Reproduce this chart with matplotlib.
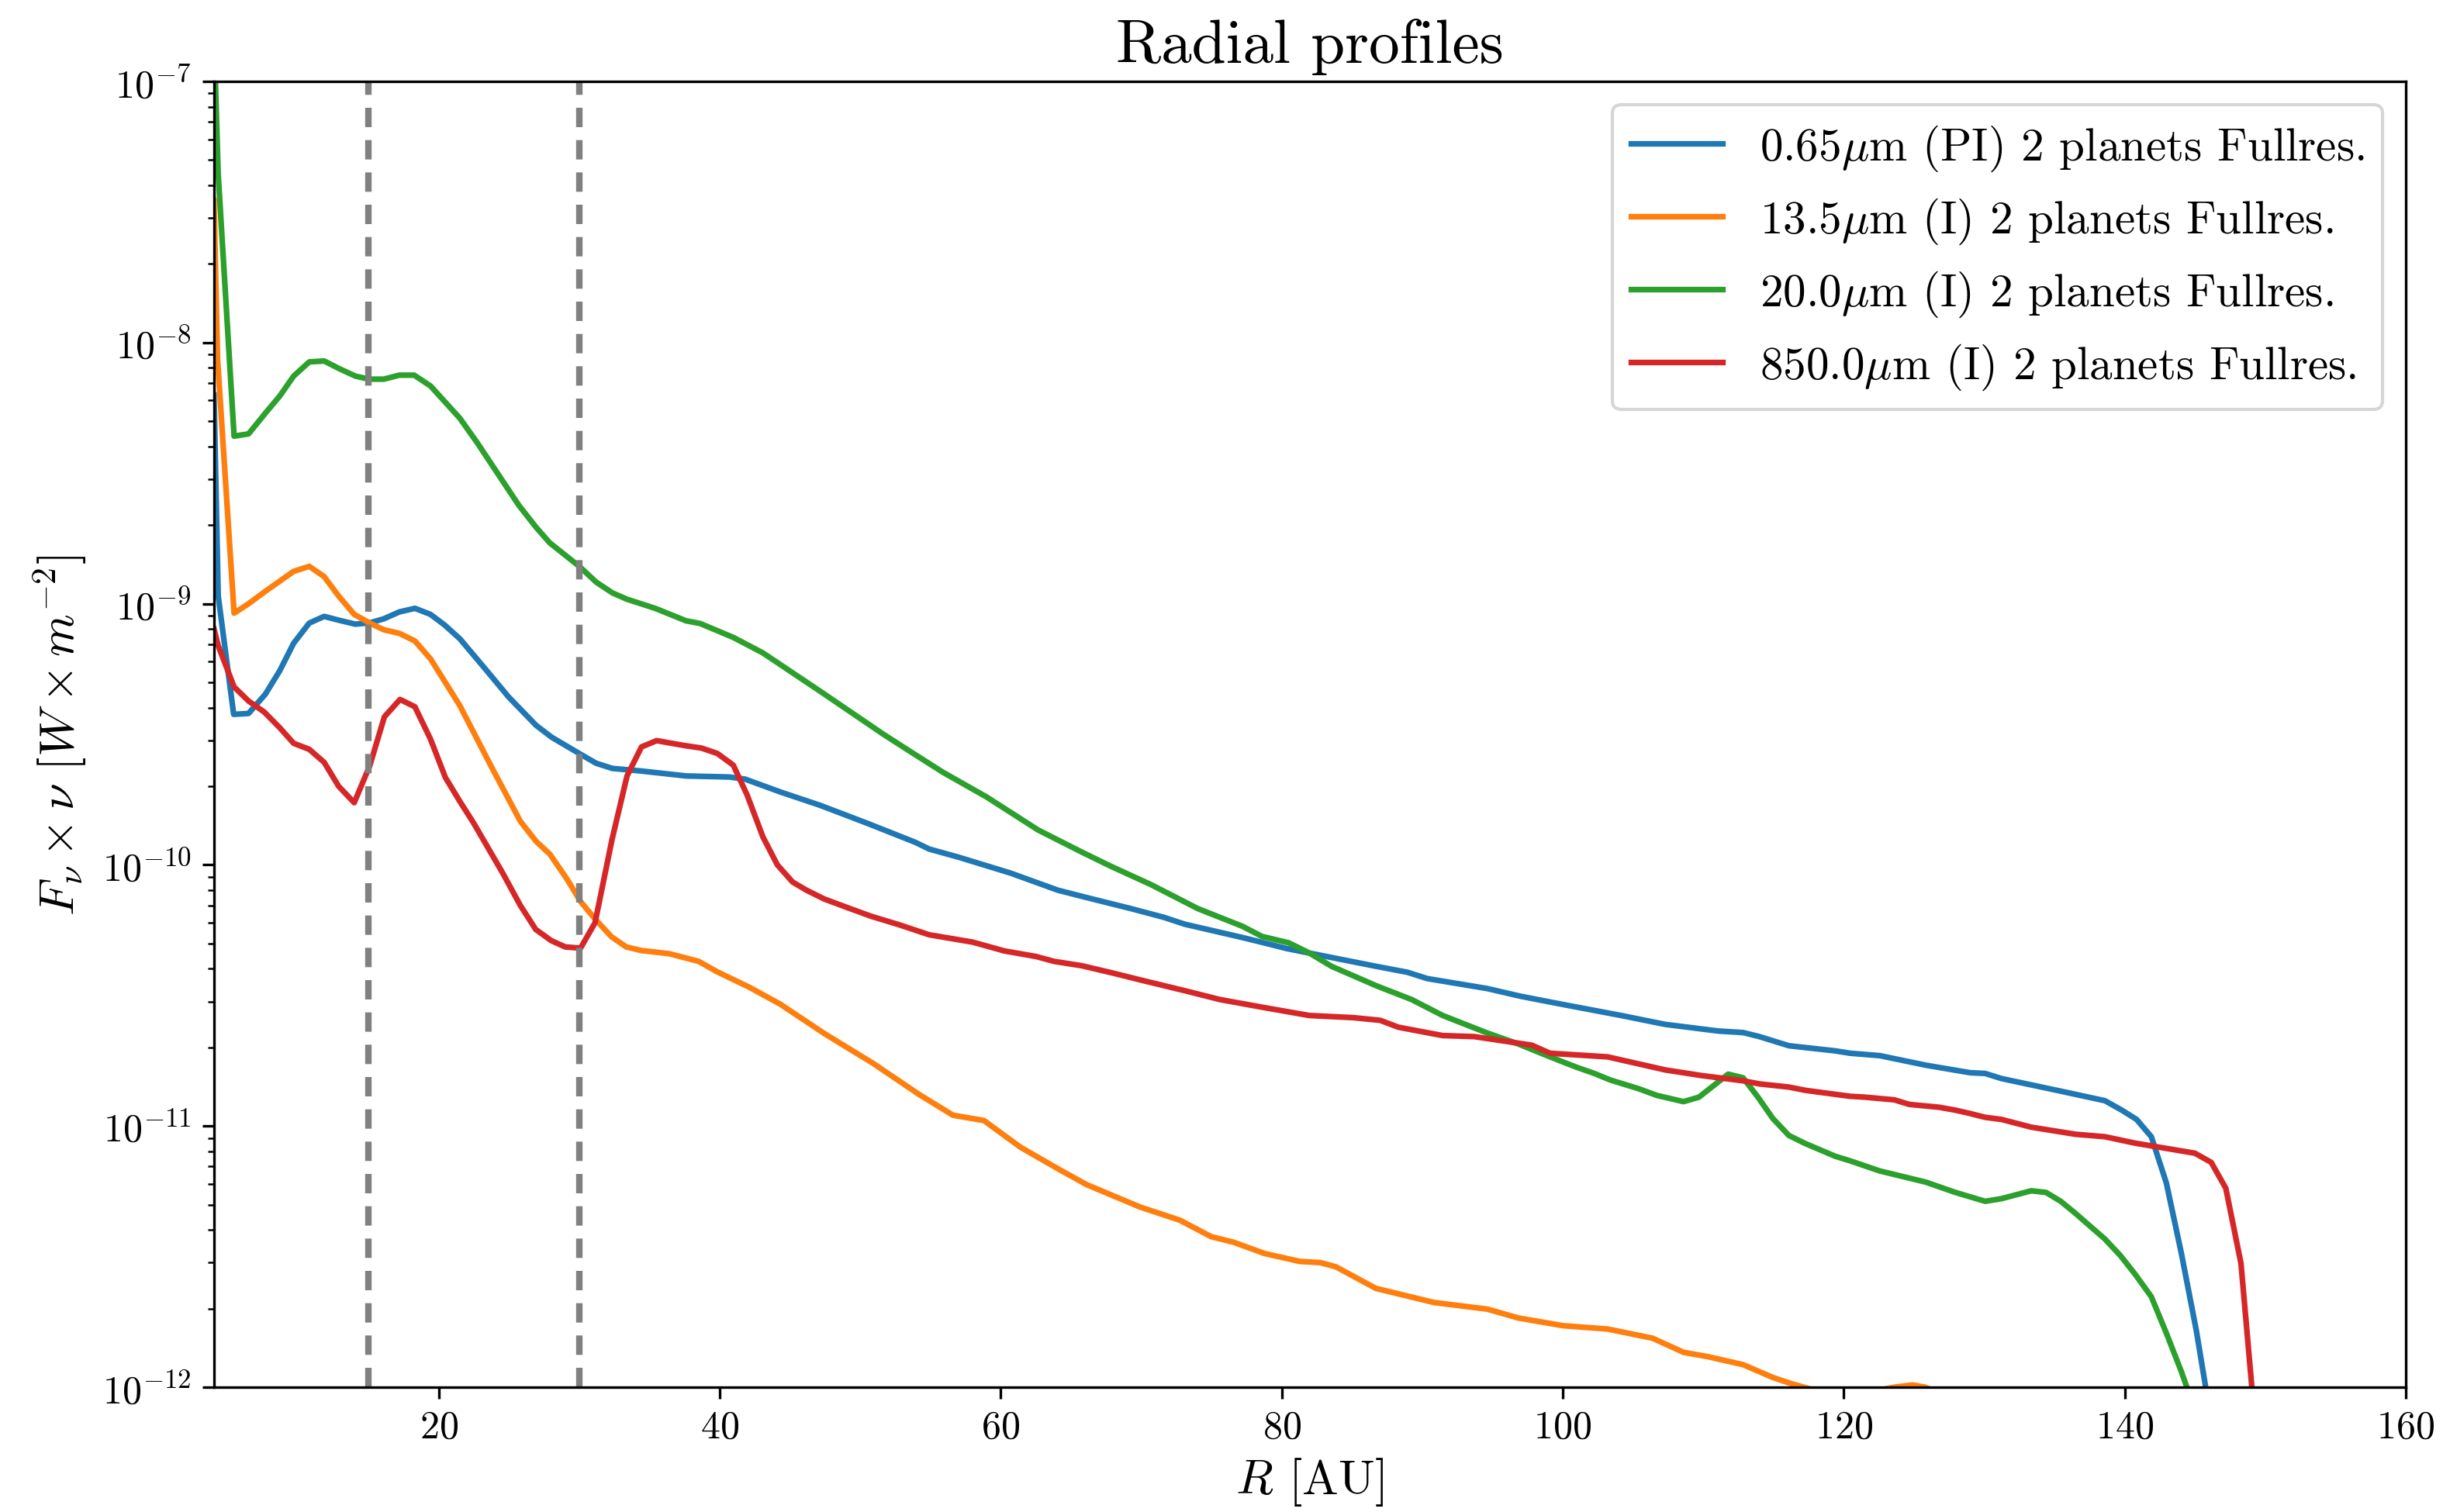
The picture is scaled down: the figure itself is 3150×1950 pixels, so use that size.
import matplotlib
matplotlib.use("Agg")
import matplotlib.pyplot as plt

plt.rcParams["font.family"] = "cmr10"
plt.rcParams["mathtext.fontset"] = "cm"
plt.rcParams["axes.formatter.use_mathtext"] = True
plt.rcParams["axes.unicode_minus"] = True

# radial profiles, R in AU
r_blue = [4.0, 4.3, 5.4, 6.46, 7.65, 8.68, 9.67, 10.78, 11.84, 12.87, 14.06, 15.1, 16.08, 17.19,
          18.3, 19.41, 20.4, 21.5, 23.5, 24.96, 26.93, 28.04, 30.1, 31.2, 32.36, 34.33, 37.6,
          40.67, 41.8, 44.33, 47.15, 50.54, 53.92, 54.9, 57.0, 60.7, 64.06, 66.1, 69.27, 71.6,
          73.08, 77.2, 78.47, 80.37, 83.54, 86.7, 88.94, 90.36, 94.64, 97.0, 100.02, 104.16,
          107.3, 111.1, 112.84, 114.0, 116.1, 119.4, 120.45, 122.57, 125.84, 129.0, 130.07,
          131.23, 135.45, 138.6, 139.8, 140.85, 141.9, 142.97, 144.03, 145.1, 146.17]
f_blue = [6.3e-9, 1.07e-9, 3.77e-10, 3.8e-10, 4.5e-10, 5.54e-10, 7.06e-10, 8.43e-10, 8.94e-10,
          8.65e-10, 8.35e-10, 8.45e-10, 8.75e-10, 9.3e-10, 9.6e-10, 9.1e-10, 8.3e-10, 7.34e-10,
          5.47e-10, 4.4e-10, 3.42e-10, 3.08e-10, 2.65e-10, 2.45e-10, 2.34e-10, 2.29e-10, 2.19e-10,
          2.17e-10, 2.13e-10, 1.9e-10, 1.69e-10, 1.44e-10, 1.22e-10, 1.15e-10, 1.07e-10, 9.3e-11,
          8.0e-11, 7.5e-11, 6.8e-11, 6.3e-11, 5.93e-11, 5.27e-11, 5.07e-11, 4.78e-11, 4.42e-11,
          4.09e-11, 3.88e-11, 3.67e-11, 3.36e-11, 3.14e-11, 2.92e-11, 2.65e-11, 2.45e-11, 2.31e-11,
          2.28e-11, 2.2e-11, 2.03e-11, 1.94e-11, 1.9e-11, 1.86e-11, 1.71e-11, 1.6e-11, 1.59e-11,
          1.52e-11, 1.36e-11, 1.25e-11, 1.15e-11, 1.06e-11, 9.1e-12, 6.05e-12, 3.27e-12, 1.65e-12,
          7.4e-13]

r_orange = [4.0, 4.25, 5.43, 6.46, 7.7, 8.68, 9.67, 10.78, 11.84, 12.87, 13.98, 15.09, 16.08,
            17.19, 18.3, 19.41, 20.4, 21.5, 23.7, 25.8, 26.93, 27.9, 29.14, 30.09, 31.13, 32.3,
            33.35, 34.4, 36.4, 38.5, 39.8, 42.1, 44.3, 47.5, 50.9, 54.2, 56.6, 58.8, 61.4, 64.2,
            66.1, 69.9, 72.75, 74.98, 76.57, 78.78, 81.3, 82.74, 83.86, 86.7, 90.84, 94.64, 96.86,
            100.02, 103.2, 106.4, 108.6, 110.3, 112.84, 114.95, 116.2, 118.3, 121.5, 123.6, 124.9,
            125.8, 127.0, 128.0]
f_orange = [3.5e-8, 8.7e-9, 9.2e-10, 1.0e-9, 1.12e-9, 1.22e-9, 1.33e-9, 1.39e-9, 1.27e-9,
            1.07e-9, 9.1e-10, 8.43e-10, 7.95e-10, 7.7e-10, 7.2e-10, 6.15e-10, 5.06e-10, 4.07e-10,
            2.4e-10, 1.47e-10, 1.23e-10, 1.1e-10, 8.8e-11, 7.24e-11, 6.2e-11, 5.3e-11, 4.85e-11,
            4.7e-11, 4.57e-11, 4.27e-11, 3.9e-11, 3.4e-11, 2.93e-11, 2.25e-11, 1.74e-11, 1.32e-11,
            1.1e-11, 1.05e-11, 8.3e-12, 6.8e-12, 5.97e-12, 4.9e-12, 4.36e-12, 3.77e-12, 3.59e-12,
            3.25e-12, 3.03e-12, 3.0e-12, 2.89e-12, 2.39e-12, 2.11e-12, 1.99e-12, 1.84e-12, 1.72e-12,
            1.67e-12, 1.54e-12, 1.36e-12, 1.31e-12, 1.22e-12, 1.09e-12, 1.035e-12, 9.6e-13, 9.5e-13,
            1.0e-12, 1.02e-12, 1.0e-12, 9.4e-13, 9.0e-13]

r_green = [4.0, 4.3, 5.43, 6.46, 7.7, 8.68, 9.67, 10.78, 11.84, 12.9, 14.06, 15.04, 16.08, 17.19,
           18.25, 19.41, 21.5, 22.74, 25.7, 26.93, 27.9, 30.0, 31.2, 32.36, 33.4, 35.4, 37.6,
           38.6, 40.96, 43.07, 47.15, 51.66, 53.78, 55.9, 58.99, 62.66, 65.76, 67.8, 70.7, 74.03,
           77.2, 78.6, 80.5, 81.96, 83.54, 86.7, 89.25, 91.46, 94.64, 96.86, 99.1, 100.98, 102.25,
           103.4, 105.4, 106.7, 108.6, 109.7, 111.78, 112.84, 113.9, 114.95, 116.1, 117.27, 119.4,
           120.45, 122.57, 125.84, 127.95, 130.07, 131.23, 133.35, 134.4, 135.45, 136.5, 138.6,
           139.7, 140.74, 141.9, 142.95, 144.03, 145.1]
f_green = [1.5e-7, 4.4e-8, 4.38e-9, 4.47e-9, 5.4e-9, 6.24e-9, 7.44e-9, 8.43e-9, 8.5e-9, 7.95e-9,
           7.44e-9, 7.24e-9, 7.24e-9, 7.5e-9, 7.5e-9, 6.82e-9, 5.13e-9, 4.13e-9, 2.38e-9, 1.96e-9,
           1.71e-9, 1.39e-9, 1.21e-9, 1.1e-9, 1.04e-9, 9.6e-10, 8.6e-10, 8.4e-10, 7.43e-10,
           6.48e-10, 4.62e-10, 3.16e-10, 2.67e-10, 2.26e-10, 1.82e-10, 1.36e-10, 1.12e-10, 9.9e-11,
           8.4e-11, 6.8e-11, 5.82e-11, 5.32e-11, 5.03e-11, 4.6e-11, 4.09e-11, 3.45e-11, 3.05e-11,
           2.65e-11, 2.27e-11, 2.06e-11, 1.84e-11, 1.68e-11, 1.59e-11, 1.5e-11, 1.39e-11, 1.31e-11,
           1.24e-11, 1.29e-11, 1.58e-11, 1.53e-11, 1.29e-11, 1.07e-11, 9.2e-12, 8.57e-12, 7.66e-12,
           7.36e-12, 6.73e-12, 6.1e-12, 5.57e-12, 5.15e-12, 5.27e-12, 5.65e-12, 5.57e-12, 5.15e-12,
           4.63e-12, 3.69e-12, 3.19e-12, 2.71e-12, 2.22e-12, 1.62e-12, 1.15e-12, 7.9e-13]

r_red = [4.0, 4.3, 5.43, 6.46, 7.57, 8.68, 9.67, 10.78, 11.84, 12.87, 13.98, 15.09, 16.13, 17.24,
         18.3, 19.41, 20.47, 21.5, 22.5, 24.6, 25.8, 26.9, 28.0, 29.0, 30.09, 31.12, 32.33, 33.4,
         34.43, 35.51, 37.55, 38.7, 39.83, 40.96, 41.95, 43.07, 44.1, 45.18, 46.17, 47.44, 49.41,
         50.8, 52.8, 54.9, 58.0, 60.27, 62.5, 63.8, 65.76, 68.0, 69.9, 73.08, 75.6, 78.78, 81.96,
         85.1, 87.0, 88.3, 91.46, 93.7, 97.8, 99.1, 103.2, 107.3, 109.9, 112.84, 114.0, 116.1,
         117.27, 120.45, 121.5, 123.6, 124.67, 126.8, 127.95, 128.9, 130.07, 131.23, 133.35,
         136.5, 138.6, 140.74, 145.0, 146.16, 147.2, 148.28, 149.35]
f_red = [8.0e-10, 6.9e-10, 4.8e-10, 4.24e-10, 3.85e-10, 3.35e-10, 2.92e-10, 2.77e-10, 2.47e-10,
         2.0e-10, 1.73e-10, 2.4e-10, 3.69e-10, 4.3e-10, 4.03e-10, 3.03e-10, 2.16e-10, 1.75e-10,
         1.44e-10, 9.2e-11, 7.0e-11, 5.66e-11, 5.13e-11, 4.85e-11, 4.8e-11, 6.0e-11, 1.25e-10,
         2.19e-10, 2.83e-10, 2.99e-10, 2.86e-10, 2.8e-10, 2.67e-10, 2.41e-10, 1.85e-10, 1.28e-10,
         1.0e-10, 8.6e-11, 8.0e-11, 7.4e-11, 6.76e-11, 6.35e-11, 5.89e-11, 5.4e-11, 5.06e-11,
         4.68e-11, 4.46e-11, 4.27e-11, 4.11e-11, 3.85e-11, 3.63e-11, 3.3e-11, 3.05e-11, 2.84e-11,
         2.65e-11, 2.6e-11, 2.54e-11, 2.39e-11, 2.22e-11, 2.2e-11, 2.04e-11, 1.9e-11, 1.84e-11,
         1.64e-11, 1.56e-11, 1.49e-11, 1.45e-11, 1.41e-11, 1.37e-11, 1.3e-11, 1.29e-11, 1.26e-11,
         1.21e-11, 1.18e-11, 1.15e-11, 1.12e-11, 1.08e-11, 1.06e-11, 9.9e-12, 9.3e-12, 9.1e-12,
         8.6e-12, 7.87e-12, 7.26e-12, 5.78e-12, 2.98e-12, 6.6e-13]

labels = [r"0.65$\mu$m (PI) 2 planets Fullres.",
          r"13.5$\mu$m (I) 2 planets Fullres.",
          r"20.0$\mu$m (I) 2 planets Fullres.",
          r"850.0$\mu$m (I) 2 planets Fullres."]
planet_r = [15, 30]

fig = plt.figure(figsize=(10.5, 6.5033), dpi=300)
ax = fig.add_axes([0.0876, 0.0825, 0.8971, 0.8632])

lw = 1.75
ax.plot(r_blue, f_blue, color="#1f77b4", lw=lw, label=labels[0])
ax.plot(r_orange, f_orange, color="#ff7f0e", lw=lw, label=labels[1])
ax.plot(r_green, f_green, color="#2ca02c", lw=lw, label=labels[2])
ax.plot(r_red, f_red, color="#d62728", lw=lw, label=labels[3])
for r in planet_r:
    ax.axvline(r, color="gray", lw=2.0, linestyle=(0, (3.0, 2.0)))

ax.set_yscale("log")
ax.set_xlim(4, 160)
ax.set_ylim(1e-12, 1e-7)
ax.tick_params(labelsize=12)
ax.set_xlabel(r"$R$ [AU]", fontsize=15, labelpad=3)
ax.set_ylabel(r"$F_\nu \times \nu$ [$W \times m^{-2}$]", fontsize=15)
ax.set_title("Radial profiles", fontsize=19)
ax.legend(loc="upper right", fontsize=14.2)

fig.savefig("out.png", dpi=300)
